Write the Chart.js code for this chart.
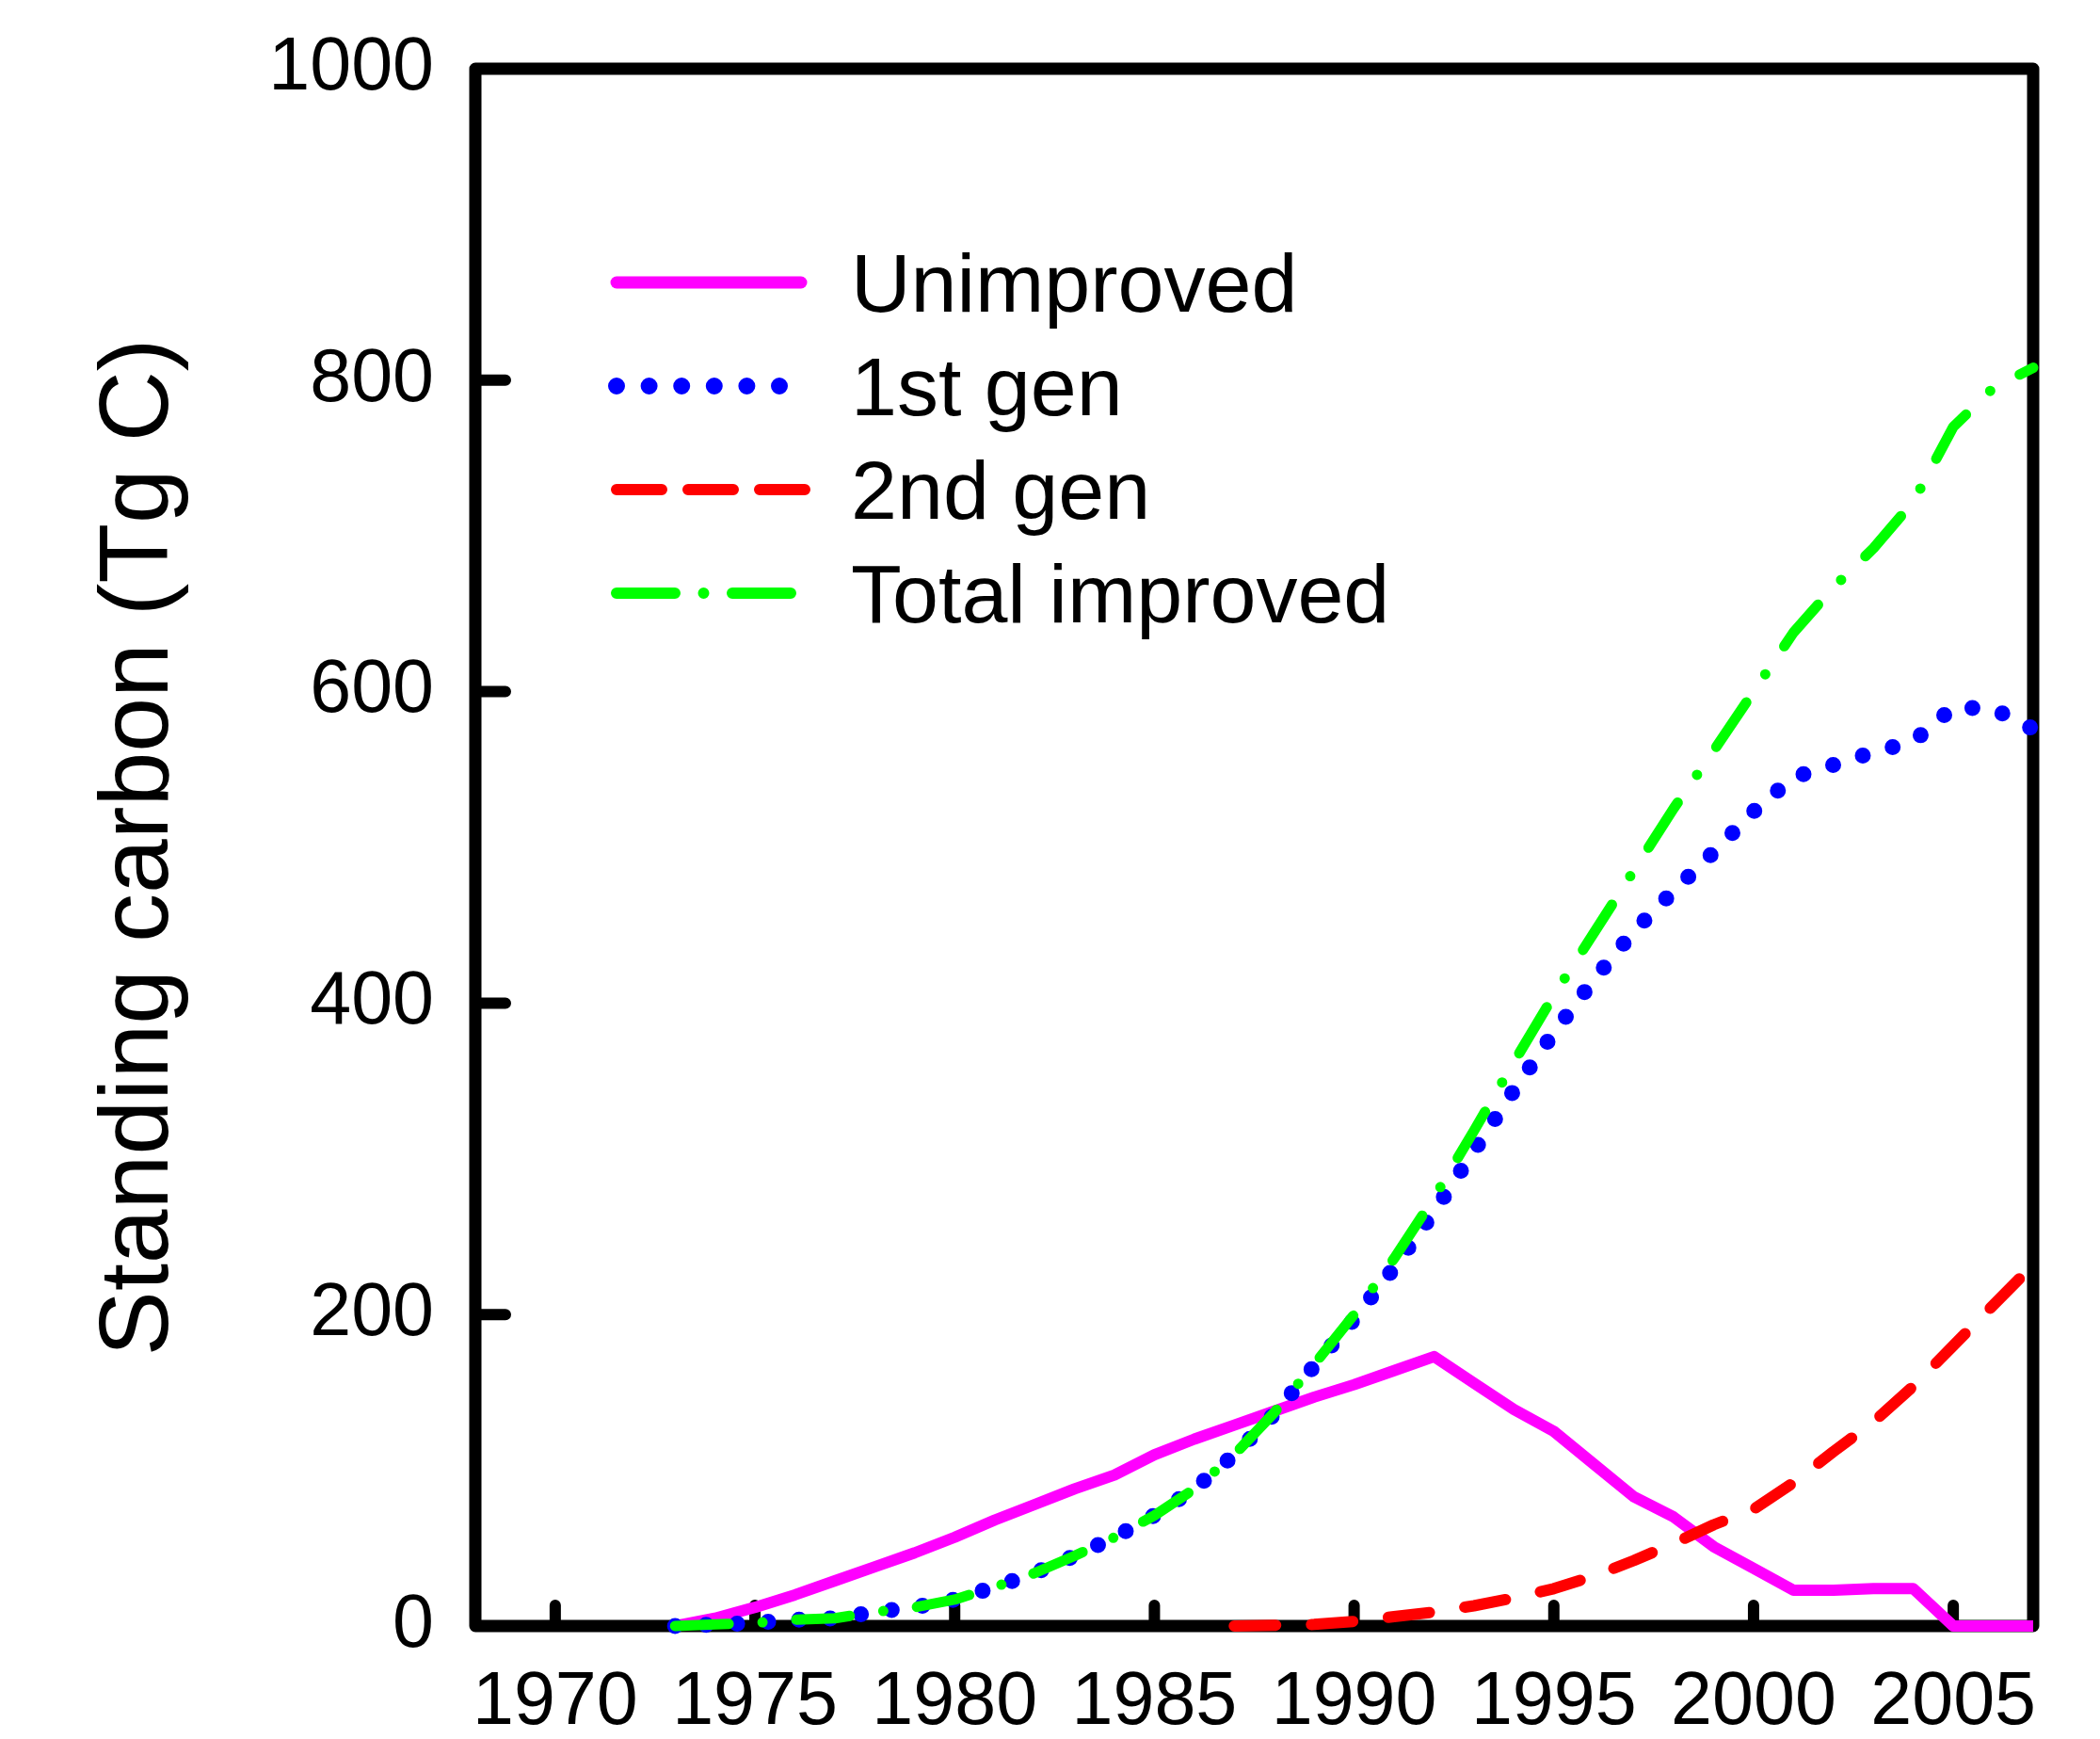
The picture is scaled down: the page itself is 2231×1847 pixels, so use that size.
<!DOCTYPE html>
<html>
<head>
<meta charset="utf-8">
<title>Standing carbon</title>
<script src="https://cdn.jsdelivr.net/npm/chart.js@4.4.1/dist/chart.umd.min.js"></script>
<style>
  html, body { margin: 0; padding: 0; background: #ffffff; }
  #wrap { width: 2231px; height: 1847px; }
</style>
</head>
<body>
<div id="wrap"><canvas id="carbonChart" width="2231" height="1847"></canvas></div>
<script>
// Data (Tg C)
const years = [1973, 1974, 1975, 1976, 1977, 1978, 1979, 1980, 1981, 1982,
  1983, 1984, 1985, 1986, 1987, 1988, 1989, 1990, 1991, 1992,
  1993, 1994, 1995, 1996, 1997, 1998, 1999, 2000, 2001, 2002,
  2003, 2004, 2005, 2006, 2007];
const unimproved = [0, 5, 12, 20, 29, 38, 47, 57, 68, 78,
  88, 97, 110, 120, 129, 138, 147, 155, 164, 173,
  156, 139, 125, 104, 83, 70, 51, 37, 23, 23,
  24, 24, 0, 0, 0];
const firstGen = [0, 1, 2, 4, 5, 9, 12, 17, 25, 34,
  45, 57, 71, 88, 110, 136, 167, 197, 230, 266,
  305, 344, 381, 415, 446, 472, 497, 523, 545, 553,
  561, 568, 590, 589, 576];
const secondGenYears = [1987, 1988, 1989, 1990, 1991, 1992, 1993, 1994, 1995, 1996,
  1997, 1998, 1999, 2000, 2001, 2002, 2003, 2004, 2005, 2006, 2007];
const secondGen = [0, 0.5, 1, 3, 6, 9, 13, 18, 24, 32,
  42, 53, 65, 75, 92, 112, 131, 154, 180, 206, 232];
const totalImproved = [0, 1, 2, 4, 5, 9, 12, 17, 25, 34,
  45, 57, 71, 88, 110, 137, 168, 200, 236, 275,
  318, 362, 405, 445, 485, 525, 562, 600, 638, 667,
  692, 722, 770, 795, 808];

const xTicks = [1970, 1975, 1980, 1985, 1990, 1995, 2000, 2005];
const yTicks = [0, 200, 400, 600, 800, 1000];

const FONT = "'Liberation Sans', Arial, Helvetica, sans-serif";

function points(xs, ys) {
  return xs.map((x, i) => ({ x: x, y: ys[i] }));
}

// Box frame plus inward tick marks
const framePlugin = {
  id: 'frame',
  beforeDatasetsDraw(chart) {
    const { ctx, chartArea: a, scales } = chart;
    ctx.save();
    ctx.strokeStyle = '#000000';
    ctx.lineJoin = 'round';
    ctx.lineWidth = 13;
    ctx.strokeRect(a.left, a.top, a.right - a.left, a.bottom - a.top);

    ctx.lineCap = 'round';
    ctx.lineWidth = 12;
    ctx.beginPath();
    yTicks.slice(1, -1).forEach(v => {
      const py = scales.y.getPixelForValue(v);
      ctx.moveTo(a.left, py);
      ctx.lineTo(a.left + 32, py);
    });
    xTicks.forEach(v => {
      const px = scales.x.getPixelForValue(v);
      ctx.moveTo(px, a.bottom);
      ctx.lineTo(px, a.bottom - 22);
    });
    ctx.stroke();
    ctx.restore();
  }
};

// Legend drawn inside the plot, upper left
const legendPlugin = {
  id: 'insideLegend',
  afterDraw(chart) {
    const { ctx } = chart;
    const samples = [
      { width: 13, dash: [], end: 851 },
      { width: 18, dash: [0, 34.6], end: 830 },
      { width: 12, dash: [48, 28], end: 855 },
      { width: 12, dash: [62, 30.5, 0, 30.5], end: 840 }
    ];
    ctx.save();
    chart.data.datasets.forEach((ds, i) => {
      const y = 300 + i * 110;
      const s = samples[i];
      ctx.strokeStyle = ds.borderColor;
      ctx.lineWidth = s.width;
      ctx.lineCap = 'round';
      ctx.setLineDash(s.dash);
      ctx.beginPath();
      ctx.moveTo(655, y);
      ctx.lineTo(s.end, y);
      ctx.stroke();

      ctx.setLineDash([]);
      ctx.fillStyle = '#000000';
      ctx.font = '88px ' + FONT;
      ctx.textAlign = 'left';
      ctx.textBaseline = 'alphabetic';
      ctx.fillText(ds.label, 904, y + 31);
    });
    ctx.restore();
  }
};

const CarbonChart = {
  init() {
    Chart.defaults.font.family = FONT;
    Chart.defaults.color = '#000000';
    this.createChart();
  },

  createChart() {
    const ctx = document.getElementById('carbonChart');
    if (!ctx) return;

    const lineBase = {
      pointRadius: 0,
      pointHoverRadius: 0,
      tension: 0,
      fill: false,
      clip: false,
      borderCapStyle: 'round',
      borderJoinStyle: 'round'
    };

    const data = {
      datasets: [
        Object.assign({}, lineBase, {
          label: 'Unimproved',
          data: points(years, unimproved),
          borderColor: '#ff00ff',
          borderWidth: 12,
          borderCapStyle: 'butt',
          order: 3
        }),
        Object.assign({}, lineBase, {
          label: '1st gen',
          data: points(years, firstGen),
          borderColor: '#0000ff',
          borderWidth: 17,
          borderDash: [0, 33],
          order: 2
        }),
        Object.assign({}, lineBase, {
          label: '2nd gen',
          data: points(secondGenYears, secondGen),
          borderColor: '#ff0000',
          borderWidth: 12,
          borderDash: [44, 38],
          order: 1
        }),
        Object.assign({}, lineBase, {
          label: 'Total improved',
          data: points(years, totalImproved),
          borderColor: '#00ff00',
          borderWidth: 11,
          borderDash: [57, 36, 0, 36],
          order: 0
        })
      ]
    };

    const config = {
      type: 'line',
      data: data,
      plugins: [framePlugin, legendPlugin],
      options: {
        responsive: false,
        animation: false,
        devicePixelRatio: 1,
        layout: {
          padding: { left: 0, right: 71, top: 73, bottom: 0 }
        },
        plugins: {
          legend: { display: false },
          tooltip: { enabled: false }
        },
        scales: {
          x: {
            type: 'linear',
            min: 1968,
            max: 2007,
            grid: { display: false, drawTicks: false },
            border: { display: false },
            afterBuildTicks(scale) {
              scale.ticks = xTicks.map(v => ({ value: v }));
            },
            afterFit(scale) {
              scale.height = 120;
              // labels fit inside the canvas, no extra side padding needed
              scale.paddingLeft = 0;
              scale.paddingRight = 0;
            },
            ticks: {
              autoSkip: false,
              maxRotation: 0,
              minRotation: 0,
              padding: 35,
              font: { size: 79 },
              color: '#000000',
              callback: v => String(v)
            }
          },
          y: {
            type: 'linear',
            min: 0,
            max: 1000,
            grid: { display: false, drawTicks: false },
            border: { display: false },
            afterBuildTicks(scale) {
              scale.ticks = yTicks.map(v => ({ value: v }));
            },
            afterFit(scale) {
              scale.width = 505;
              scale.paddingTop = 0;
              scale.paddingBottom = 0;
            },
            ticks: {
              padding: 44,
              font: { size: 79 },
              color: '#000000',
              callback: v => String(v)
            },
            title: {
              display: true,
              text: 'Standing carbon (Tg C)',
              font: { size: 104 },
              color: '#000000',
              padding: { top: 87, bottom: 0 }
            }
          }
        }
      }
    };

    new Chart(ctx, config);
  }
};

CarbonChart.init();
</script>
</body>
</html>
